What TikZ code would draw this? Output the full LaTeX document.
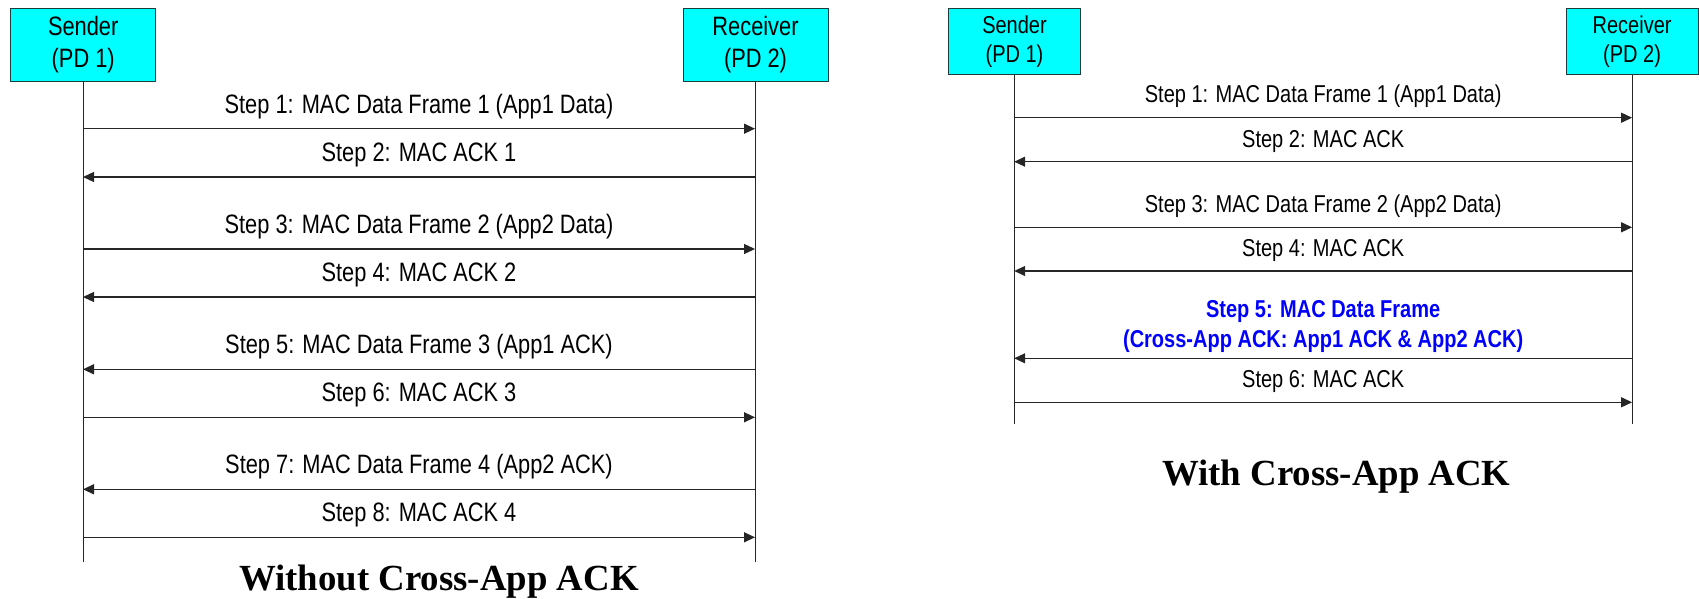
\documentclass[tikz,border=0pt]{standalone}
\usepackage{fontspec}
\setmainfont{Liberation Sans}
\newfontfamily\narrow[FakeStretch=0.82]{Liberation Sans}
\newfontfamily\titlefont{Liberation Serif}
\usetikzlibrary{arrows.meta}
\definecolor{boxcyan}{RGB}{0,255,255}
\definecolor{msgblue}{RGB}{0,0,255}
\definecolor{boxedge}{RGB}{30,60,60}
\begin{document}
\begin{tikzpicture}[x=1pt,y=-1pt,
  entityL/.style={draw=boxedge,line width=1pt,fill=boxcyan,minimum width=145pt,minimum height=73pt,inner sep=0pt,align=center,
    font=\narrow\fontsize{26.6}{32}\selectfont},
  entityR/.style={draw=boxedge,line width=1pt,fill=boxcyan,minimum width=132pt,minimum height=66pt,inner sep=0pt,align=center,
    font=\narrow\fontsize{24.4}{29}\selectfont},
  life/.style={line width=1pt,draw=black!85},
  msg/.style={line width=1.3pt,draw=black!85,-{Triangle[length=11pt,width=10pt]}},
  lblL/.style={anchor=base,inner sep=0pt,yshift=15.4pt,font=\narrow\fontsize{26.6}{32}\selectfont},
  lblR/.style={anchor=base,inner sep=0pt,yshift=14.7pt,font=\narrow\fontsize{24.4}{29}\selectfont},
  lblblue/.style={anchor=base,inner sep=0pt,text=msgblue,font=\narrow\bfseries\fontsize{24.4}{29}\selectfont},
  titletext/.style={anchor=base,inner sep=0pt,font=\titlefont\bfseries\fontsize{36.8}{40}\selectfont}
]
\useasboundingbox (0,0) rectangle (1699,599);

% ---------- Left diagram: Without Cross-App ACK ----------
\node[entityL] (sL) at (83.2,44.6) {Sender\\(PD 1)};
\node[entityL] (rL) at (755.5,44.6) {Receiver\\(PD 2)};
\coordinate (sLend) at (83,561.7);
\coordinate (rLend) at (755,561.7);
\draw[life] (sL.south -| sLend) -- (sLend);
\draw[life] (rL.south -| rLend) -- (rLend);

\coordinate (aS1) at (83,128.7);  \coordinate (aR1) at (755,128.7);
\coordinate (aS2) at (83,177);    \coordinate (aR2) at (755,177);
\coordinate (aS3) at (83,249);    \coordinate (aR3) at (755,249);
\coordinate (aS4) at (83,297);    \coordinate (aR4) at (755,297);
\coordinate (aS5) at (83,369.3);  \coordinate (aR5) at (755,369.3);
\coordinate (aS6) at (83,417.3);  \coordinate (aR6) at (755,417.3);
\coordinate (aS7) at (83,489.3);  \coordinate (aR7) at (755,489.3);
\coordinate (aS8) at (83,537.3);  \coordinate (aR8) at (755,537.3);

\draw[msg] (aS1) -- node[lblL] (l1) {Step 1: MAC Data Frame 1 (App1 Data)} (aR1);
\draw[msg] (aR2) -- node[lblL] (l2) {Step 2: MAC ACK 1} (aS2);
\draw[msg] (aS3) -- node[lblL] (l3) {Step 3: MAC Data Frame 2 (App2 Data)} (aR3);
\draw[msg] (aR4) -- node[lblL] (l4) {Step 4: MAC ACK 2} (aS4);
\draw[msg] (aR5) -- node[lblL] (l5) {Step 5: MAC Data Frame 3 (App1 ACK)} (aS5);
\draw[msg] (aS6) -- node[lblL] (l6) {Step 6: MAC ACK 3} (aR6);
\draw[msg] (aR7) -- node[lblL] (l7) {Step 7: MAC Data Frame 4 (App2 ACK)} (aS7);
\draw[msg] (aS8) -- node[lblL] (l8) {Step 8: MAC ACK 4} (aR8);

\node[titletext] (tL) at (439,590) {Without Cross-App ACK};

% ---------- Right diagram: With Cross-App ACK ----------
\node[entityR] (sR) at (1014.5,41.2) {Sender\\(PD 1)};
\node[entityR] (rR) at (1632.1,41.2) {Receiver\\(PD 2)};
\coordinate (sRend) at (1014.2,424);
\coordinate (rRend) at (1632.1,424);
\draw[life] (sR.south -| sRend) -- (sRend);
\draw[life] (rR.south -| rRend) -- (rRend);

\coordinate (bS1) at (1014.2,117.7); \coordinate (bR1) at (1632.1,117.7);
\coordinate (bS2) at (1014.2,161.7); \coordinate (bR2) at (1632.1,161.7);
\coordinate (bS3) at (1014.2,227.3); \coordinate (bR3) at (1632.1,227.3);
\coordinate (bS4) at (1014.2,271);   \coordinate (bR4) at (1632.1,271);
\coordinate (bS5) at (1014.2,358.3); \coordinate (bR5) at (1632.1,358.3);
\coordinate (bS6) at (1014.2,402.3); \coordinate (bR6) at (1632.1,402.3);

\draw[msg] (bS1) -- node[lblR] (m1) {Step 1: MAC Data Frame 1 (App1 Data)} (bR1);
\draw[msg] (bR2) -- node[lblR] (m2) {Step 2: MAC ACK} (bS2);
\draw[msg] (bS3) -- node[lblR] (m3) {Step 3: MAC Data Frame 2 (App2 Data)} (bR3);
\draw[msg] (bR4) -- node[lblR] (m4) {Step 4: MAC ACK} (bS4);
\draw[msg] (bR5) -- node[lblblue,yshift=10.6pt] (m5) {(Cross-App ACK: App1 ACK \& App2 ACK)} (bS5);
\node[lblblue,anchor=base] (m5top) at ([yshift=30.4pt]m5.base) {Step 5: MAC Data Frame};
\draw[msg] (bS6) -- node[lblR] (m6) {Step 6: MAC ACK} (bR6);

\node[titletext] (tR) at (1336.4,485) {With Cross-App ACK};
\end{tikzpicture}
\end{document}
